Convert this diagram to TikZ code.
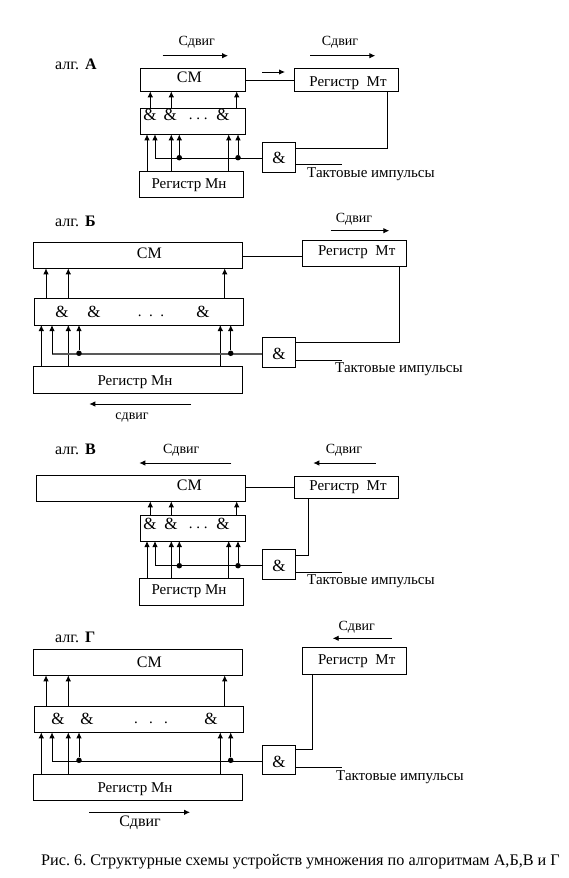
\documentclass[tikz,border=0pt]{standalone}
\usepackage{fontspec}
\setmainfont{Liberation Serif}
\frenchspacing
\usetikzlibrary{arrows.meta}
\tikzset{
  regbox/.style={draw=black, line width=0.9pt, inner sep=0pt, outer sep=0pt, anchor=north west},
  lbl/.style={inner sep=0pt, text height=10pt, text depth=3pt, yshift=-1.7pt, font=\fontsize{15}{15}\selectfont},
  algname/.style={inner sep=0pt, anchor=west, text height=10pt, text depth=3pt, yshift=-1pt, font=\fontsize{16}{16}\selectfont},
  shiftlbl/.style={lbl, font=\fontsize{14}{14}\selectfont},
  amp/.style={lbl, yshift=-0.8pt, font=\fontsize{17}{17}\selectfont},
  wire/.style={black, line width=0.9pt},
  sig/.style={wire, -{Latex[length=6pt,width=5.5pt]}},
  dotnode/.style={circle, fill=black, inner sep=0pt, minimum size=5.5pt},
}
\begin{document}
\begin{tikzpicture}[x=1pt,y=-1pt]
  \useasboundingbox (0,0) rectangle (569,878);

  % alg A
  \node[algname] (algA) at (55,65) {алг.\hspace{6pt}\textbf{А}};
  \node[regbox, minimum width=105.5pt, minimum height=23pt] (smA) at (140.3,68.3) {};
  \node[regbox, minimum width=105.5pt, minimum height=26pt] (andA) at (140.3,108.3) {};
  \node[regbox, minimum width=104pt, minimum height=26pt] (mnA) at (139.3,171.3) {};
  \node[regbox, minimum width=104pt, minimum height=23pt] (mtA) at (294.3,68.3) {};
  \node[regbox, minimum width=33.4pt, minimum height=30pt] (gateA) at (262.3,142.3) {};
  \node[lbl, font=\fontsize{16}{16}\selectfont] (smtA) at (189.3,77.7) {СМ};
  \node[lbl] (mntA) at (189,183) {Регистр Мн};
  \node[lbl] (mttA) at (348,81.3) {Регистр\ \ Мт};
  \node[amp] (gatetA) at (279,157.7) {\&};
  \node[amp] (and1A) at (150,114.7) {\&};
  \node[amp] (and2A) at (170.3,114.7) {\&};
  \node[amp] (and3A) at (223,114.7) {\&};
  \node[lbl] (dotsA) at (198.3,114.7) {. . .};
  \node[lbl, anchor=west] (clkA) at (307,172) {Тактовые импульсы};
  \node[shiftlbl] (sh1A) at (196.7,40) {Сдвиг};
  \node[shiftlbl] (sh2A) at (340,40) {Сдвиг};
  \foreach \x in {150.3,171.3,236.7}
    \draw[sig] (andA.north -| \x,0) -- (smA.south -| \x,0);
  \foreach \x in {147,171.3,228.7}
    \draw[sig] (mnA.north -| \x,0) -- (andA.south -| \x,0);
  \coordinate (busA) at (155,158.3);
  \draw[wire] (busA) -- (gateA.west |- busA);
  \node[dotnode] (d1A) at (179.3,157.7) {};
  \node[dotnode] (d2A) at (238,157.7) {};
  \draw[sig] (busA) -- (andA.south -| busA);
  \draw[sig] (d1A) -- (andA.south -| d1A);
  \draw[sig] (d2A) -- (andA.south -| d2A);
  \draw[wire] (smA.east |- 0,80.3) -- (mtA.west |- 0,80.3);
  \draw[wire] (gateA.east |- 0,148) -| (mtA.south -| 387.3,0);
  \coordinate (clkendA) at (341.7,164.3);
  \draw[wire] (gateA.east |- clkendA) -- (clkendA);
  \coordinate (a1A) at (162.7,55.7);
  \coordinate (a2A) at (228,55.7);
  \coordinate (a3A) at (310,55.7);
  \coordinate (a4A) at (375.3,55.7);
  \coordinate (a5A) at (262,72);
  \coordinate (a6A) at (285,72);
  \draw[sig] (a1A) -- (a2A);
  \draw[sig] (a3A) -- (a4A);
  \draw[sig] (a5A) -- (a6A);

  % alg B
  \node[algname] (algB) at (55,221.7) {алг.\hspace{6pt}\textbf{Б}};
  \node[regbox, minimum width=209pt, minimum height=26pt] (smB) at (33.3,242.3) {};
  \node[regbox, minimum width=209pt, minimum height=26.7pt] (andB) at (34.3,298.3) {};
  \node[regbox, minimum width=209pt, minimum height=27pt] (mnB) at (33.3,366.3) {};
  \node[regbox, minimum width=104.4pt, minimum height=26pt] (mtB) at (302.3,240.3) {};
  \node[regbox, minimum width=33.4pt, minimum height=30pt] (gateB) at (262.3,337.3) {};
  \node[lbl, font=\fontsize{16}{16}\selectfont] (smtB) at (149.3,253.7) {СМ};
  \node[lbl] (mntB) at (135,380) {Регистр Мн};
  \node[lbl] (mttB) at (356.7,250.7) {Регистр\ \ Мт};
  \node[amp] (gatetB) at (279,353) {\&};
  \node[amp] (and1B) at (62,311) {\&};
  \node[amp] (and2B) at (94,311) {\&};
  \node[amp] (and3B) at (203,311) {\&};
  \node[lbl] (dotsB) at (151,311) {.\ \ .\ \ .};
  \node[lbl, anchor=west] (clkB) at (335,367.7) {Тактовые импульсы};
  \node[shiftlbl] (sh1B) at (354,217.7) {Сдвиг};
  \node[shiftlbl] (sh2B) at (132,414) {сдвиг};
  \foreach \x in {46,68.3,224.7}
    \draw[sig] (andB.north -| \x,0) -- (smB.south -| \x,0);
  \foreach \x in {41.3,68.3,220.3}
    \draw[sig] (mnB.north -| \x,0) -- (andB.south -| \x,0);
  \coordinate (busB) at (52,354);
  \draw[wire, black!65, line width=1.2pt] (busB) -- (gateB.west |- busB);
  \node[dotnode] (d1B) at (79,353.3) {};
  \node[dotnode] (d2B) at (230.7,353.3) {};
  \draw[sig] (busB) -- (andB.south -| busB);
  \draw[sig] (d1B) -- (andB.south -| d1B);
  \draw[sig] (d2B) -- (andB.south -| d2B);
  \draw[wire] (smB.east |- 0,256.3) -- (mtB.west |- 0,256.3);
  \draw[wire] (gateB.east |- 0,342.3) -| (mtB.south -| 399.7,0);
  \coordinate (clkendB) at (341.7,360.3);
  \draw[wire] (gateB.east |- clkendB) -- (clkendB);
  \coordinate (a1B) at (330.7,230.7);
  \coordinate (a2B) at (389.3,230.7);
  \coordinate (a3B) at (191,404);
  \coordinate (a4B) at (89.3,404);
  \draw[sig] (a1B) -- (a2B);
  \draw[sig] (a3B) -- (a4B);

  % alg V
  \node[algname] (algV) at (55,450) {алг.\hspace{6pt}\textbf{В}};
  \node[regbox, minimum width=209.4pt, minimum height=26pt] (smV) at (36.3,475.3) {};
  \node[regbox, minimum width=105.5pt, minimum height=25.7pt] (andV) at (140.3,515.3) {};
  \node[regbox, minimum width=104pt, minimum height=26.7pt] (mnV) at (139.3,578.3) {};
  \node[regbox, minimum width=104pt, minimum height=22.3pt] (mtV) at (294.3,476) {};
  \node[regbox, minimum width=33.4pt, minimum height=30pt] (gateV) at (262.3,549.3) {};
  \node[lbl, font=\fontsize{16}{16}\selectfont] (smtV) at (189.3,485.7) {СМ};
  \node[lbl] (mntV) at (189,589.3) {Регистр Мн};
  \node[lbl] (mttV) at (348,485.3) {Регистр\ \ Мт};
  \node[amp] (gatetV) at (279,565) {\&};
  \node[amp] (and1V) at (150,523.7) {\&};
  \node[amp] (and2V) at (171,523.7) {\&};
  \node[amp] (and3V) at (223,523.7) {\&};
  \node[lbl] (dotsV) at (198.3,523.7) {. . .};
  \node[lbl, anchor=west] (clkV) at (307,579.7) {Тактовые импульсы};
  \node[shiftlbl] (sh1V) at (181.3,448.3) {Сдвиг};
  \node[shiftlbl] (sh2V) at (344,448.3) {Сдвиг};
  \foreach \x in {150.3,171.3,236.7}
    \draw[sig] (andV.north -| \x,0) -- (smV.south -| \x,0);
  \foreach \x in {147,171.3,228.7}
    \draw[sig] (mnV.north -| \x,0) -- (andV.south -| \x,0);
  \coordinate (busV) at (155,565.7);
  \draw[wire] (busV) -- (gateV.west |- busV);
  \node[dotnode] (d1V) at (179.3,565.7) {};
  \node[dotnode] (d2V) at (238,565.7) {};
  \draw[sig] (busV) -- (andV.south -| busV);
  \draw[sig] (d1V) -- (andV.south -| d1V);
  \draw[sig] (d2V) -- (andV.south -| d2V);
  \draw[wire] (smV.east |- 0,487.3) -- (mtV.west |- 0,487.3);
  \draw[wire] (gateV.east |- 0,555.3) -| (mtV.south -| 308.7,0);
  \coordinate (clkendV) at (341.7,572.3);
  \draw[wire] (gateV.east |- clkendV) -- (clkendV);
  \coordinate (a1V) at (231.3,463);
  \coordinate (a2V) at (139.3,463);
  \coordinate (a3V) at (375.7,463);
  \coordinate (a4V) at (313.3,463);
  \draw[sig] (a1V) -- (a2V);
  \draw[sig] (a3V) -- (a4V);

  % alg G
  \node[algname] (algG) at (55,637.7) {алг.\hspace{6pt}\textbf{Г}};
  \node[regbox, minimum width=209pt, minimum height=26pt] (smG) at (33.3,649.3) {};
  \node[regbox, minimum width=209pt, minimum height=26pt] (andG) at (34.3,706.3) {};
  \node[regbox, minimum width=209pt, minimum height=26pt] (mnG) at (33.3,774.3) {};
  \node[regbox, minimum width=104.4pt, minimum height=27pt] (mtG) at (302.3,647.3) {};
  \node[regbox, minimum width=33.4pt, minimum height=29.4pt] (gateG) at (262.3,745.3) {};
  \node[lbl, font=\fontsize{16}{16}\selectfont] (smtG) at (149.3,662.3) {СМ};
  \node[lbl] (mntG) at (135,787.7) {Регистр Мн};
  \node[lbl] (mttG) at (356.7,659.3) {Регистр\ \ Мт};
  \node[amp] (gatetG) at (279,761) {\&};
  \node[amp] (and1G) at (58,718) {\&};
  \node[amp] (and2G) at (87,718) {\&};
  \node[amp] (and3G) at (211,718) {\&};
  \node[lbl] (dotsG) at (151,718) {.\ \ \ .\ \ \ .};
  \node[lbl, anchor=west] (clkG) at (336,775.3) {Тактовые импульсы};
  \node[shiftlbl] (sh1G) at (356.7,625) {Сдвиг};
  \node[lbl, font=\fontsize{16}{16}\selectfont] (sh2G) at (140,821.7) {Сдвиг};
  \foreach \x in {46,68.3,224.7}
    \draw[sig] (andG.north -| \x,0) -- (smG.south -| \x,0);
  \foreach \x in {41.3,68.3,220.3}
    \draw[sig] (mnG.north -| \x,0) -- (andG.south -| \x,0);
  \coordinate (busG) at (52,761);
  \draw[wire] (busG) -- (gateG.west |- busG);
  \node[dotnode] (d1G) at (79,760.3) {};
  \node[dotnode] (d2G) at (230.7,760.3) {};
  \draw[sig] (busG) -- (andG.south -| busG);
  \draw[sig] (d1G) -- (andG.south -| d1G);
  \draw[sig] (d2G) -- (andG.south -| d2G);
  \draw[wire] (gateG.east |- 0,749.7) -| (mtG.south -| 312.7,0);
  \coordinate (clkendG) at (341.7,767.3);
  \draw[wire] (gateG.east |- clkendG) -- (clkendG);
  \coordinate (a1G) at (391.7,638.3);
  \coordinate (a2G) at (332.7,638.3);
  \coordinate (a3G) at (89.3,812.3);
  \coordinate (a4G) at (190,812.3);
  \draw[sig] (a1G) -- (a2G);
  \draw[sig] (a3G) -- (a4G);

  \node[inner sep=0pt, anchor=west, text height=11pt, text depth=3pt, yshift=-1pt, font=\fontsize{16.2}{16}\selectfont] (caption) at (41,860)
    {Рис. 6. Структурные схемы устройств умножения по алгоритмам А,Б,В и Г};
\end{tikzpicture}
\end{document}
